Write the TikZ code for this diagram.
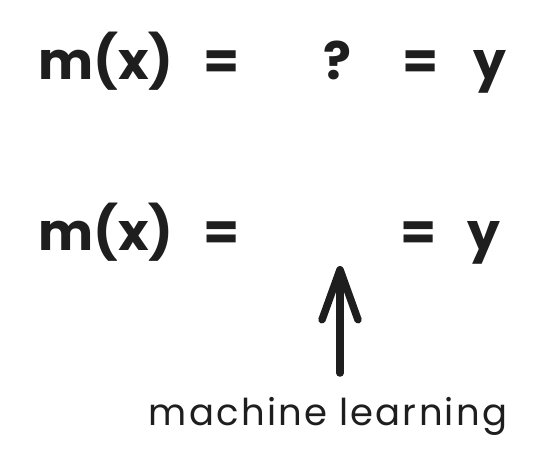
\documentclass[tikz,border=0pt]{standalone}
\usepackage{fontspec}
\setmainfont{Poppins}
\newfontfamily\lblfont[LetterSpace=6]{Poppins}
\usetikzlibrary{arrows.meta}
\definecolor{ink}{HTML}{1E1E1E}
\tikzset{
  eq/.style={text=ink, inner sep=0pt, anchor=base, font=\fontsize{52}{52}\selectfont\bfseries},
  lbl/.style={text=ink, inner sep=0pt, anchor=base, font=\lblfont\fontsize{37}{37}\selectfont},
  pointer/.style={draw=ink, line width=7.5pt, line cap=round,
    -{Straight Barb[length=50pt, width=36pt, line width=7.5pt, round]}}
}
\begin{document}
\begin{tikzpicture}[x=1pt,y=-1pt]
\useasboundingbox[fill=white] (0,0) rectangle (540,462);
% row 1
\node[eq, anchor=base west] (mx1) at (38,80) {m(x)};
\node[eq] (eqa1) at (222,80) {=};
\node[eq] (q) at (337,80) {?};
\node[eq] (eqb1) at (421,80) {=};
\node[eq] (y1) at (490,80) {y};
% row 2
\node[eq, anchor=base west] (mx2) at (38,250) {m(x)};
\node[eq] (eqa2) at (222,250) {=};
\node[eq] (eqb2) at (419,250) {=};
\node[eq] (y2) at (484,250) {y};
% label and arrow
\node[lbl] (ml) at (328,425) {machine learning};
\coordinate (tip) at (340,266);
\coordinate (tail) at (340,373);
\draw[pointer] (tail) -- (tip);
\end{tikzpicture}
\end{document}
